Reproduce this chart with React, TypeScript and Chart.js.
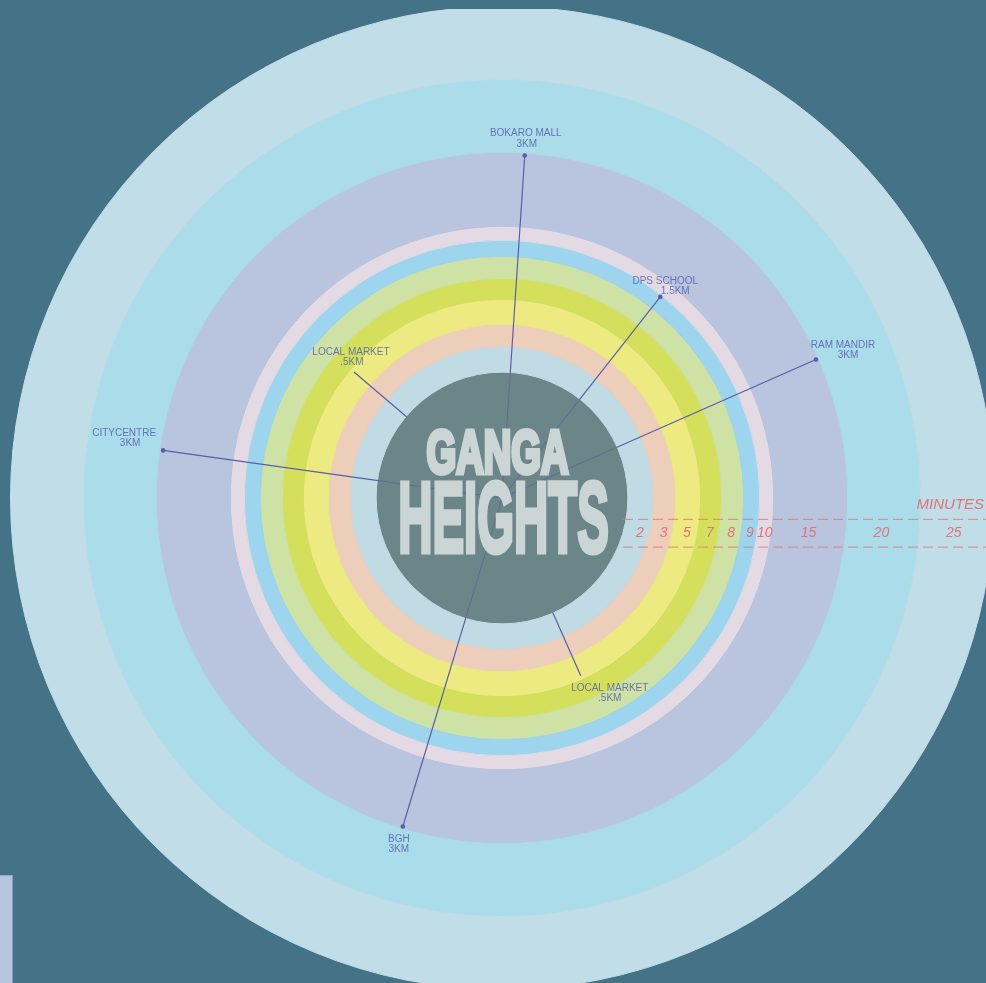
import React, { useEffect, useRef } from 'react';
import { Chart, registerables } from 'chart.js';

Chart.register(...registerables);

// ---- data ----
// travel-time bands, inner → outer
const minuteLabels = ['2', '3', '5', '7', '8', '9', '10', '15', '20', '25'];
// radial width of each band (ring units)
const ringWidths = [26, 22, 25, 21, 22, 16, 14, 74, 73, 73];
const coreRadius = 126;
const ringColors = ['#c0dbe4', '#eccebb', '#ecea80', '#d4e05b', '#cfe2a6', '#9dd4ee', '#e4dae4', '#b9c4df', '#abdce9', '#c0dde8'];
const coreColor = '#6b8689';

// landmarks
const landmarkNames = ['BOKARO MALL', 'DPS SCHOOL', 'RAM MANDIR', 'LOCAL MARKET', 'BGH', 'CITYCENTRE', 'LOCAL MARKET'];
const landmarkDistances = ['3KM', '1.5KM', '3KM', '.5KM', '3KM', '3KM', '.5KM'];
const landmarkBearings = [3.8, 38.2, 66.2, 156.1, 196.8, 278, 310.4]; // degrees clockwise from north
const landmarkReach = [346, 258, 346, 196, 346, 345, 196]; // ring units from centre
const landmarkFromCore = [false, false, false, true, false, false, true];

const titleLines = ['GANGA', 'HEIGHTS'];
const axisTitle = 'MINUTES';

// ---- layout / style (not data) ----
const labelOffsets: [number, number, number, number][] = [
  [1, -22, 2, -11],
  [5, -16, 15, -6],
  [27, -14, 32, -4],
  [29, 13, 29, 23],
  [-4, 13, -4, 23],
  [-39, -17, -33, -7],
  [-3, -20, -2, -10],
];
const BG = '#447388';
const LINE = '#5b5ea6';
const LINE_FAINT = 'rgba(70,72,150,0.35)';
const LABEL = 'rgba(82,92,172,0.82)';
const MINUTE_COLOR = '#e0737a';
const TITLE_COLOR = '#ccd5d6';
const SIZE = 984;
const HALF = SIZE / 2;

function polar(r: number, bearing: number) {
  const a = (bearing * Math.PI) / 180;
  return { x: r * Math.sin(a), y: r * Math.cos(a) };
}

function drawFitted(ctx: CanvasRenderingContext2D, text: string, cx: number, baseline: number, width: number, capHeight: number) {
  const stroke = 5;
  const size = (capHeight - stroke) / 0.72;
  ctx.font = `bold ${size}px 'Liberation Sans Narrow', 'Liberation Sans', Arial, sans-serif`;
  const m = ctx.measureText(text).width;
  const sx = width / (m + stroke);
  ctx.save();
  ctx.translate(cx, baseline - stroke / 2);
  ctx.scale(sx, 1);
  ctx.textAlign = 'center';
  ctx.textBaseline = 'alphabetic';
  ctx.fillStyle = TITLE_COLOR;
  ctx.strokeStyle = TITLE_COLOR;
  ctx.lineWidth = stroke;
  ctx.lineJoin = 'miter';
  ctx.miterLimit = 2;
  ctx.fillText(text, 0, 0);
  ctx.strokeText(text, 0, 0);
  ctx.restore();
}

export default function App() {
  const ringRef = useRef<HTMLCanvasElement>(null);
  const overlayRef = useRef<HTMLCanvasElement>(null);

  useEffect(() => {
    document.body.style.margin = '0';
    document.body.style.background = BG;

    // rings (doughnut, dataset 0 is outermost)
    const ringDatasets: any[] = ringWidths
      .map((w, i) => ({
        data: [1],
        weight: w,
        backgroundColor: ringColors[i],
        borderColor: ringColors[i],
        borderWidth: 1,
        hoverOffset: 0,
        label: minuteLabels[i],
      }))
      .reverse();
    ringDatasets.push({ data: [1], weight: coreRadius, backgroundColor: coreColor, borderColor: coreColor, borderWidth: 1, hoverOffset: 0, label: 'core' });

    const rings = new Chart(ringRef.current!, {
      type: 'doughnut',
      data: { labels: ['band'], datasets: ringDatasets },
      options: {
        animation: false,
        responsive: false,
        devicePixelRatio: 1,
        cutout: 0,
        radius: '100%',
        layout: { padding: 0 },
        plugins: { legend: { display: false }, tooltip: { enabled: false } },
        events: [],
      } as any,
    });

    // ring midpoints for the minute axis
    const mids: number[] = [];
    let acc = coreRadius;
    ringWidths.forEach((w) => {
      mids.push(acc + w / 2);
      acc += w;
    });

    const lineDatasets = landmarkNames.map((name, i) => {
      const b = landmarkBearings[i];
      const pts = landmarkFromCore[i]
        ? [polar(coreRadius, b), polar(landmarkReach[i], b)]
        : [{ x: 0, y: 0 }, polar(coreRadius, b), polar(landmarkReach[i], b)];
      const last = pts.length - 1;
      const hasDot = !landmarkFromCore[i];
      const fromCore = landmarkFromCore[i];
      return {
        label: name,
        data: pts,
        showLine: true,
        borderColor: LINE,
        borderWidth: 1.2,
        segment: {
          borderColor: (c: any) => (!fromCore && c.p0DataIndex === 0 ? LINE_FAINT : LINE),
        },
        pointRadius: (c: any) => (hasDot && c.dataIndex === last ? 2.3 : 0),
        pointBackgroundColor: LINE,
        pointBorderWidth: 0,
        clip: false,
      };
    });

    const annotate = {
      id: 'annotate',
      afterDatasetsDraw(chart: any) {
        const ctx: CanvasRenderingContext2D = chart.ctx;
        const xs = chart.scales.x;
        const ys = chart.scales.y;
        const px = (v: number) => xs.getPixelForValue(v);
        const py = (v: number) => ys.getPixelForValue(v);

        // title
        drawFitted(ctx, titleLines[0], px(-4.5), py(23), 145, 49);
        drawFitted(ctx, titleLines[1], px(1.5), py(-57), 213, 77);

        // landmark labels
        ctx.save();
        ctx.font = "10px 'Liberation Sans', Arial, sans-serif";
        ctx.fillStyle = LABEL;
        ctx.textAlign = 'center';
        ctx.textBaseline = 'middle';
        landmarkNames.forEach((name, i) => {
          const p = polar(landmarkReach[i], landmarkBearings[i]);
          const x = px(p.x);
          const y = py(p.y);
          const o = labelOffsets[i];
          ctx.fillText(name, x + o[0], y + o[1]);
          ctx.fillText(landmarkDistances[i], x + o[2], y + o[3]);
        });
        ctx.restore();

        // minute axis
        ctx.save();
        ctx.strokeStyle = 'rgba(224,115,122,0.85)';
        ctx.lineWidth = 1;
        ctx.setLineDash([10, 5]);
        [-21, -49].forEach((v) => {
          ctx.beginPath();
          ctx.moveTo(px(122), py(v) + 0.5);
          ctx.lineTo(px(492), py(v) + 0.5);
          ctx.stroke();
        });
        ctx.setLineDash([]);
        ctx.fillStyle = MINUTE_COLOR;
        ctx.font = "italic 14px 'Liberation Sans', Arial, sans-serif";
        ctx.textAlign = 'center';
        ctx.textBaseline = 'middle';
        minuteLabels.forEach((lab, i) => {
          ctx.fillText(lab, px(mids[i]), py(-35));
        });
        ctx.font = "italic 15px 'Liberation Sans', Arial, sans-serif";
        ctx.textAlign = 'right';
        ctx.fillText(axisTitle, px(486), py(-7));
        ctx.restore();
      },
    };

    const overlay = new Chart(overlayRef.current!, {
      type: 'scatter',
      data: { datasets: lineDatasets as any },
      options: {
        animation: false,
        responsive: false,
        devicePixelRatio: 1,
        layout: { padding: 0 },
        events: [],
        scales: {
          x: { type: 'linear', min: -HALF, max: HALF, display: false },
          y: { type: 'linear', min: -HALF, max: HALF, display: false },
        },
        plugins: { legend: { display: false }, tooltip: { enabled: false } },
      } as any,
      plugins: [annotate],
    });

    return () => {
      rings.destroy();
      overlay.destroy();
    };
  }, []);

  return (
    <div style={{ position: 'fixed', left: 0, top: 0, width: 986, height: 983, background: BG, overflow: 'hidden' }}>
      <div style={{ position: 'absolute', left: 0, top: 9, width: 986, height: 974, overflow: 'hidden' }}>
        <div style={{ position: 'absolute', left: 10, top: -3, width: SIZE, height: SIZE }}>
          <canvas ref={ringRef} width={SIZE} height={SIZE} style={{ position: 'absolute', left: 0, top: 0, width: SIZE, height: SIZE }} />
          <canvas ref={overlayRef} width={SIZE} height={SIZE} style={{ position: 'absolute', left: 0, top: 0, width: SIZE, height: SIZE }} />
        </div>
      </div>
      <div
        style={{
          position: 'absolute',
          left: 0,
          top: 875,
          width: 12,
          height: 108,
          background: '#b7c4dd',
          borderRight: '1px solid #8d9cb3',
          borderTop: '1px solid #9aa8c0',
        }}
      />
    </div>
  );
}
